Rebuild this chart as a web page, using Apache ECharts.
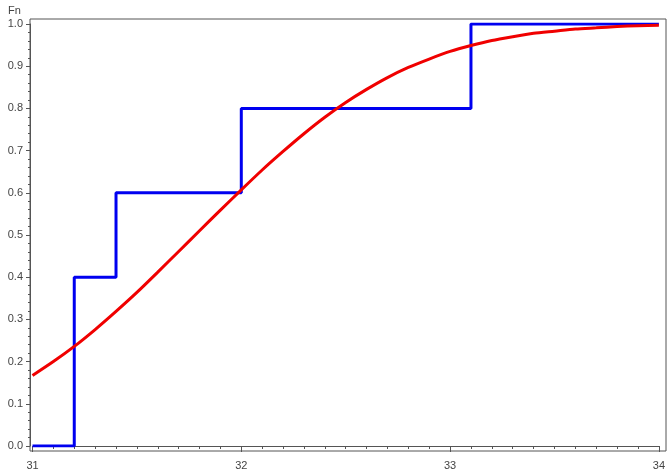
<!DOCTYPE html>
<html><head><meta charset="utf-8">
<script src="https://cdn.jsdelivr.net/npm/echarts@6/dist/echarts.min.js"></script>
<style>html,body{margin:0;padding:0;background:#fff}#c{width:668px;height:472px}</style>
</head><body><div id="c"></div>
<script>
// Empirical CDF (step) points
const stepX = [31, 31.2, 31.4, 32.0, 33.1, 34];
const stepY = [0, 0.4, 0.6, 0.8, 1.0, 1.0];
// Smooth fitted CDF
const curveX = [31.0,31.1,31.2,31.3,31.4,31.5,31.6,31.7,31.8,31.9,32.0,32.1,32.2,32.3,32.4,32.5,32.6,32.7,32.8,32.9,33.0,33.1,33.2,33.3,33.4,33.5,33.6,33.7,33.8,33.9,34.0];
const curveY = [0.167,0.200,0.236,0.276,0.319,0.364,0.412,0.461,0.510,0.559,0.607,0.654,0.698,0.740,0.779,0.814,0.845,0.873,0.897,0.917,0.935,0.949,0.961,0.970,0.978,0.983,0.988,0.991,0.994,0.996,0.997];
const yLabel = 'Fn';

const chart = echarts.init(document.getElementById('c'));
const font = 'Liberation Sans, Arial, sans-serif';
chart.setOption({
  animation: false,
  backgroundColor: '#fff',
  graphic: [{type:'text', left: 8, top: 5, style:{text: yLabel, font: '11px ' + font, fill:'#444'}}],
  grid: [
    {left: 30, top: 19, width: 636, height: 432, show: true, borderColor: '#555', borderWidth: 1, backgroundColor: '#fff'},
    {left: 32.5, top: 24, width: 632, height: 422}
  ],
  xAxis: [
    {gridIndex: 0, type: 'value', show: false, min: 0, max: 1},
    {gridIndex: 1, type: 'value', min: 31, max: 34, interval: 1, offset: 5,
     axisLine: {show: true, lineStyle: {color: '#555', width: 1}},
     axisTick: {show: true, length: 6, lineStyle: {color: '#555'}},
     minorTick: {show: true, splitNumber: 10, length: 3, lineStyle: {color: '#555'}},
     splitLine: {show: false},
     axisLabel: {margin: 9, fontSize: 11, color: '#444', fontFamily: font, formatter: v => String(Math.round(v))}}
  ],
  yAxis: [
    {gridIndex: 0, type: 'value', show: false, min: 0, max: 1},
    {gridIndex: 1, type: 'value', min: 0, max: 1, interval: 0.1, offset: 2.5,
     axisLine: {show: true, lineStyle: {color: '#555', width: 1}},
     axisTick: {show: true, length: 4, lineStyle: {color: '#555'}},
     minorTick: {show: true, splitNumber: 5, length: 2, lineStyle: {color: '#555'}},
     splitLine: {show: false},
     axisLabel: {margin: 7, fontSize: 11, color: '#444', fontFamily: font, formatter: v => v.toFixed(1)}}
  ],
  series: [
    {type: 'line', xAxisIndex: 1, yAxisIndex: 1, step: 'end', symbol: 'none',
     lineStyle: {color: '#0000f0', width: 3}, data: stepX.map((x,i)=>[x, stepY[i]])},
    {type: 'line', xAxisIndex: 1, yAxisIndex: 1, smooth: 0.25, symbol: 'none',
     lineStyle: {color: '#f00000', width: 3}, data: curveX.map((x,i)=>[x, curveY[i]])}
  ]
});
</script></body></html>
